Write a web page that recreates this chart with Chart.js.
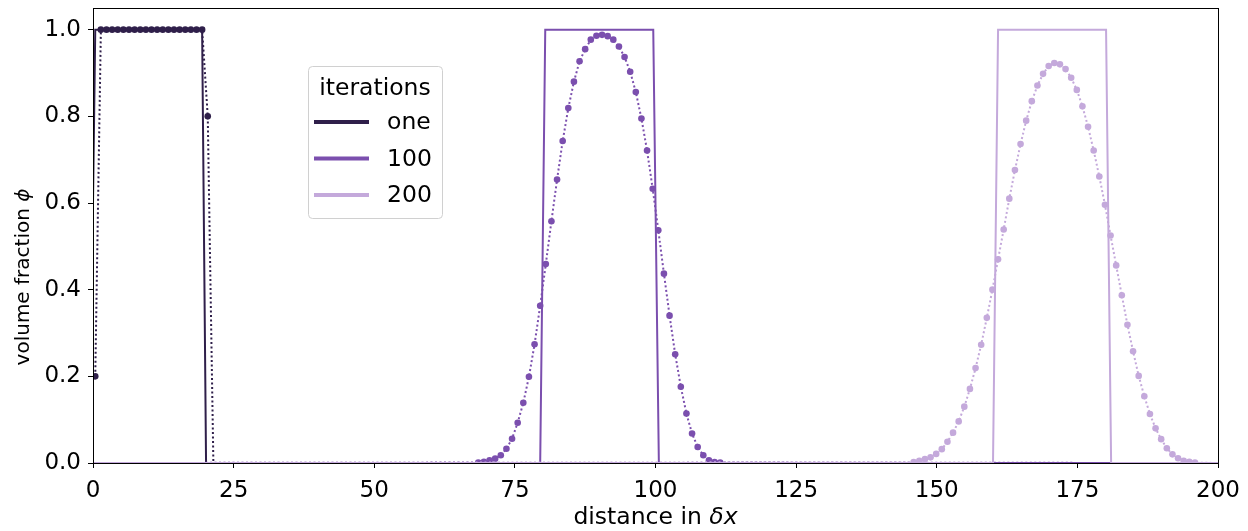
<!DOCTYPE html>
<html>
<head>
<meta charset="utf-8">
<script src="https://cdn.jsdelivr.net/npm/chart.js@4.4.0/dist/chart.umd.min.js"></script>
<style>
  html, body { margin: 0; padding: 0; background: #fff; }
  canvas { display: block; }
</style>
</head>
<body>
<canvas id="chart" width="1248" height="531"></canvas>
<script>
// tick values
const xTicks = [0, 25, 50, 75, 100, 125, 150, 175, 200];
const yTicks = [0, 0.2, 0.4, 0.6, 0.8, 1.0];

const iterationLabels = ['one', '100', '200'];
const colors = ['#2f1f4a', '#7b4fae', '#c4a9db'];

// exact solution (solid lines), break points
const exactOneX = [-0.6, 0.4, 19.4, 20.1, 200];
const exactOneY = [0, 1, 1, 0, 0];
const exact100X = [0, 79.5, 80.4, 99.6, 100.6, 200];
const exact100Y = [0, 0, 1, 1, 0, 0];
const exact200X = [0, 160.0, 160.9, 180.1, 181.0, 200];
const exact200Y = [0, 0, 1, 1, 0, 0];

// numerical solution (dotted lines with markers)
const numOneX = [0.4, 1.4, 2.4, 3.4, 4.4, 5.4, 6.4, 7.4, 8.4, 9.4, 10.4, 11.4,
    12.4, 13.4, 14.4, 15.4, 16.4, 17.4, 18.4, 19.4, 20.4, 21.4, 200];
const numOneY = [0.2, 1, 1, 1, 1, 1, 1, 1, 1, 1, 1, 1,
    1, 1, 1, 1, 1, 1, 1, 1, 0.8, 0, 0];

const num100X = [0, 68.5, 69.5, 70.5, 71.5, 72.5, 73.5, 74.5, 75.5, 76.5, 77.5,
    78.5, 79.5, 80.5, 81.5, 82.5, 83.5, 84.5, 85.5, 86.5, 87.5, 88.5, 89.5,
    90.5, 91.5, 92.5, 93.5, 94.5, 95.5, 96.5, 97.5, 98.5, 99.5, 100.5, 101.5,
    102.5, 103.5, 104.5, 105.5, 106.5, 107.5, 108.5, 109.5, 110.5, 111.5, 200];
const num100Y = [0, 0.001, 0.003, 0.006, 0.010, 0.018, 0.033, 0.056, 0.093, 0.139, 0.199,
    0.274, 0.363, 0.459, 0.558, 0.654, 0.743, 0.819, 0.880, 0.927, 0.955, 0.977, 0.986,
    0.988, 0.985, 0.977, 0.961, 0.937, 0.903, 0.856, 0.795, 0.721, 0.633, 0.537, 0.437,
    0.340, 0.251, 0.176, 0.114, 0.068, 0.037, 0.018, 0.006, 0.002, 0.001, 0];

const num200X = [0, 145.9, 146.9, 147.9, 148.9, 149.9, 150.9, 151.9, 152.9, 153.9,
    154.9, 155.9, 156.9, 157.9, 158.9, 159.9, 160.9, 161.9, 162.9, 163.9, 164.9,
    165.9, 166.9, 167.9, 168.9, 169.9, 170.9, 171.9, 172.9, 173.9, 174.9, 175.9,
    176.9, 177.9, 178.9, 179.9, 180.9, 181.9, 182.9, 183.9, 184.9, 185.9, 186.9,
    187.9, 188.9, 189.9, 190.9, 191.9, 192.9, 193.9, 194.9, 195.9, 200];
const num200Y = [0, 0.002, 0.005, 0.009, 0.013, 0.021, 0.032, 0.049, 0.070, 0.096,
    0.130, 0.171, 0.219, 0.273, 0.335, 0.400, 0.470, 0.539, 0.610, 0.676, 0.736,
    0.790, 0.835, 0.871, 0.898, 0.916, 0.923, 0.920, 0.909, 0.889, 0.861, 0.823,
    0.776, 0.721, 0.661, 0.596, 0.525, 0.456, 0.387, 0.319, 0.258, 0.201, 0.154,
    0.113, 0.080, 0.055, 0.034, 0.020, 0.011, 0.005, 0.003, 0.001, 0];

const FONT = 'DejaVu Sans';
const TICK_SIZE = 23;
const LABEL_SIZE = 23.5;
const YLABEL_SIZE = 20;

const pts = (xs, ys) => xs.map((x, i) => ({ x: x, y: ys[i] }));

function exactLine(xs, ys, color, order) {
    return {
        data: pts(xs, ys),
        borderColor: color,
        borderWidth: 2,
        pointRadius: 0,
        pointHoverRadius: 0,
        tension: 0,
        order: order
    };
}

function numericLine(xs, ys, color, order) {
    return {
        data: pts(xs, ys),
        borderColor: color,
        borderWidth: 2,
        borderDash: [2, 2.5],
        borderCapStyle: 'butt',
        pointRadius: ctx => (ctx.raw && ctx.raw.y > 0.0005 ? 3.3 : 0),
        pointHoverRadius: 0,
        pointBackgroundColor: color,
        pointBorderWidth: 0,
        tension: 0,
        order: order
    };
}

// frame round the plot area (matplotlib spines)
const framePlugin = {
    id: 'frame',
    afterDatasetsDraw(chart) {
        const { ctx, chartArea: a } = chart;
        ctx.save();
        ctx.strokeStyle = '#000';
        ctx.lineWidth = 1;
        ctx.strokeRect(a.left + 0.5, a.top + 0.5, a.right - a.left, a.bottom - a.top);
        ctx.restore();
    }
};

// legend box inside the axes
const legendPlugin = {
    id: 'innerLegend',
    afterDraw(chart) {
        const { ctx, chartArea: a } = chart;
        const left = a.left + 215, top = a.top + 58, w = 134, h = 152;
        ctx.save();
        ctx.beginPath();
        ctx.roundRect(left + 0.5, top + 0.5, w, h, 4);
        ctx.fillStyle = 'rgba(255,255,255,0.8)';
        ctx.fill();
        ctx.strokeStyle = '#d0d0d0';
        ctx.lineWidth = 1;
        ctx.stroke();

        ctx.fillStyle = '#000';
        ctx.font = LABEL_SIZE + 'px "' + FONT + '"';
        ctx.textBaseline = 'middle';
        ctx.textAlign = 'center';
        ctx.fillText('iterations', left + w / 2, top + 23);

        ctx.textAlign = 'left';
        iterationLabels.forEach((label, i) => {
            const y = top + 56 + i * 36.5;
            ctx.beginPath();
            ctx.moveTo(left + 6, y);
            ctx.lineTo(left + 61, y);
            ctx.strokeStyle = colors[i];
            ctx.lineWidth = 4;
            ctx.stroke();
            ctx.fillText(label, left + 79, y + 1);
        });
        ctx.restore();
    }
};

// axis titles with italic math parts
const titlesPlugin = {
    id: 'axisTitles',
    afterDraw(chart) {
        const { ctx, chartArea: a } = chart;

        function drawParts(parts, size, cx, cy) {
            const normal = size + 'px "' + FONT + '"';
            const italic = 'italic ' + size + 'px "' + FONT + '"';
            let total = 0;
            parts.forEach(p => { ctx.font = p[1] ? italic : normal; total += ctx.measureText(p[0]).width; });
            let x = cx - total / 2;
            parts.forEach(p => {
                ctx.font = p[1] ? italic : normal;
                ctx.fillText(p[0], x, cy);
                x += ctx.measureText(p[0]).width;
            });
        }

        ctx.save();
        ctx.fillStyle = '#000';
        ctx.textBaseline = 'middle';
        ctx.textAlign = 'left';
        drawParts([['distance in ', false], ['\u03b4x', true]], LABEL_SIZE, (a.left + a.right) / 2, 518);

        ctx.translate(24, 277);
        ctx.rotate(-Math.PI / 2);
        drawParts([['volume fraction ', false], ['\u03d5', true]], YLABEL_SIZE, 0, 0);
        ctx.restore();
    }
};

const tickFont = { family: FONT, size: TICK_SIZE };

new Chart(document.getElementById('chart'), {
    type: 'line',
    data: {
        datasets: [
            exactLine(exactOneX, exactOneY, colors[0], 5),
            numericLine(numOneX, numOneY, colors[0], 4),
            exactLine(exact100X, exact100Y, colors[1], 3),
            numericLine(num100X, num100Y, colors[1], 2),
            exactLine(exact200X, exact200Y, colors[2], 1),
            numericLine(num200X, num200Y, colors[2], 0)
        ]
    },
    options: {
        responsive: false,
        animation: false,
        events: [],
        layout: { padding: { top: 8, right: 30, left: 0, bottom: 0 } },
        plugins: {
            legend: { display: false },
            tooltip: { enabled: false }
        },
        scales: {
            x: {
                type: 'linear',
                min: 0,
                max: 200,
                afterBuildTicks: s => { s.ticks = xTicks.map(v => ({ value: v })); },
                afterFit: s => { s.height = 68; s.paddingLeft = 0; s.paddingRight = 0; },
                ticks: {
                    autoSkip: false,
                    maxRotation: 0,
                    padding: 9,
                    color: '#000',
                    font: tickFont,
                    callback: v => String(v)
                },
                grid: {
                    drawOnChartArea: false,
                    drawTicks: true,
                    tickLength: 5,
                    tickColor: '#000',
                    tickWidth: 1
                },
                border: { display: false }
            },
            y: {
                type: 'linear',
                min: 0,
                max: 1.05,
                afterBuildTicks: s => { s.ticks = yTicks.map(v => ({ value: v })); },
                afterFit: s => { s.width = 93; s.paddingTop = 0; s.paddingBottom = 0; },
                ticks: {
                    padding: 7,
                    color: '#000',
                    font: tickFont,
                    callback: v => v.toFixed(1)
                },
                grid: {
                    drawOnChartArea: false,
                    drawTicks: true,
                    tickLength: 5,
                    tickColor: '#000',
                    tickWidth: 1
                },
                border: { display: false }
            }
        }
    },
    plugins: [framePlugin, legendPlugin, titlesPlugin]
});
</script>
</body>
</html>
